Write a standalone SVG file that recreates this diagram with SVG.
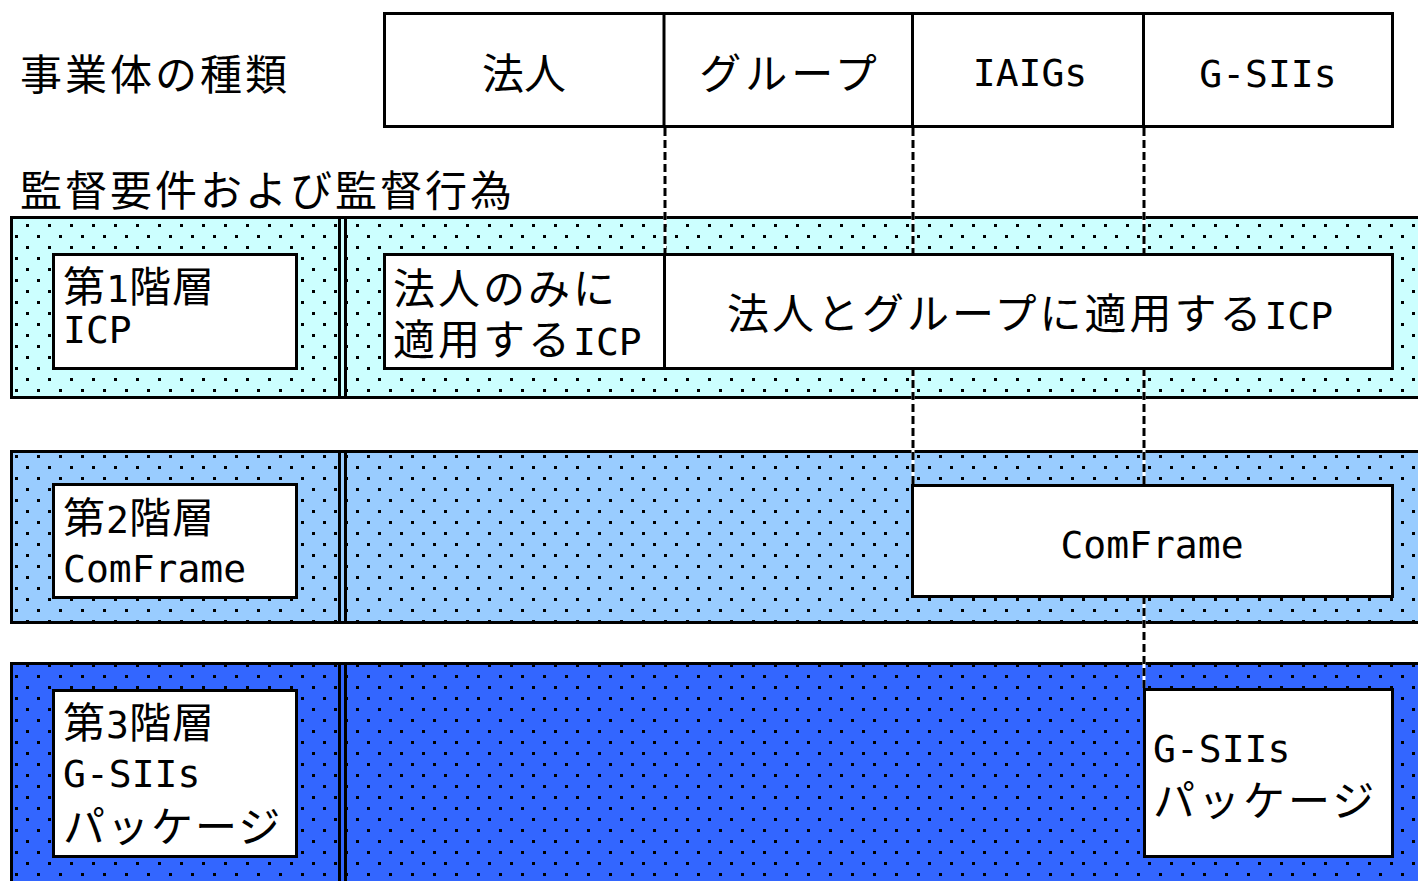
<svg xmlns="http://www.w3.org/2000/svg" width="1418" height="881" viewBox="0 0 1418 881">
<style>
.t{font-family:"DejaVu Sans Mono","Noto Sans CJK JP",sans-serif;font-size:42px;fill:#000;letter-spacing:3px}
.l{letter-spacing:0px;font-size:38px}
.box{fill:#fff;stroke:#000;stroke-width:3}
.bd{fill:none;stroke:#000;stroke-width:3}
.dash{stroke:#000;stroke-width:3;stroke-dasharray:8 4;fill:none}
.wl{stroke:#fff;stroke-width:3;fill:none}
</style>
<defs>
<pattern id="dots" width="22" height="22" patternUnits="userSpaceOnUse">
<rect x="4" y="4" width="3" height="3" fill="#000"/>
<rect x="15" y="15" width="3" height="3" fill="#000"/>
</pattern>
</defs>
<rect width="1418" height="881" fill="#fff"/>

<g id="labels">
<text class="t" x="20" y="90" style="letter-spacing:3px">事業体の種類</text>
<text class="t" x="20" y="206" style="letter-spacing:3px">監督要件および監督行為</text>
</g>

<g id="header">
<rect class="box" x="384.5" y="13.5" width="1008" height="113"/>
<line class="bd" x1="664" y1="13" x2="664" y2="127"/>
<line class="bd" x1="912.5" y1="13" x2="912.5" y2="127"/>
<line class="bd" x1="1143.5" y1="13" x2="1143.5" y2="127"/>
<text class="t" x="524" y="89" text-anchor="middle" style="letter-spacing:0px">法人</text>
<text class="t" x="790" y="89" text-anchor="middle" style="letter-spacing:4px">グループ</text>
<text class="t" x="1030" y="86" text-anchor="middle"><tspan class="l">IAIGs</tspan></text>
<text class="t" x="1268" y="87" text-anchor="middle"><tspan class="l">G-SIIs</tspan></text>
</g>

<g id="band1">
<rect x="11.5" y="217.5" width="1410" height="180" fill="#CCFFFF"/>
<rect x="11.5" y="217.5" width="1410" height="180" fill="url(#dots)"/>
<rect class="bd" x="11.5" y="217.5" width="1410" height="180"/>
<line class="bd" x1="339.5" y1="217" x2="339.5" y2="398"/>
<line class="bd" x1="345.5" y1="217" x2="345.5" y2="398"/>
</g>
<g id="band2">
<rect x="11.5" y="451.5" width="1410" height="171" fill="#99CCFF"/>
<rect x="11.5" y="451.5" width="1410" height="171" fill="url(#dots)"/>
<rect class="bd" x="11.5" y="451.5" width="1410" height="171"/>
<line class="bd" x1="339.5" y1="451" x2="339.5" y2="623"/>
<line class="bd" x1="345.5" y1="451" x2="345.5" y2="623"/>
</g>
<g id="band3">
<rect x="11.5" y="663.5" width="1410" height="230" fill="#3366FF"/>
<rect x="11.5" y="663.5" width="1410" height="230" fill="url(#dots)"/>
<rect class="bd" x="11.5" y="663.5" width="1410" height="230"/>
<line class="bd" x1="339.5" y1="663" x2="339.5" y2="881"/>
<line class="bd" x1="345.5" y1="663" x2="345.5" y2="881"/>
</g>

<g id="connectors">
<line class="wl" x1="665" y1="128" x2="665" y2="253"/>
<line class="dash" x1="665" y1="128" x2="665" y2="253"/>
<line class="wl" x1="913" y1="128" x2="913" y2="484"/>
<line class="dash" x1="913" y1="128" x2="913" y2="484"/>
<line class="wl" x1="1144" y1="128" x2="1144" y2="688"/>
<line class="dash" x1="1144" y1="128" x2="1144" y2="688"/>
</g>

<g id="tier1">
<rect class="box" x="53.5" y="254.5" width="243" height="114"/>
<text class="t" x="63" y="302" style="letter-spacing:1px">第<tspan class="l">1</tspan>階層</text>
<text class="t" x="63" y="343"><tspan class="l">ICP</tspan></text>
</g>
<g id="icp-legal">
<rect class="box" x="384.5" y="254.5" width="280" height="114"/>
<text class="t" x="393" y="304" style="letter-spacing:3px">法人のみに</text>
<text class="t" x="393" y="355" style="letter-spacing:3px">適用する<tspan class="l">ICP</tspan></text>
</g>
<g id="icp-group">
<rect class="box" x="664.5" y="254.5" width="728" height="114"/>
<text class="t" x="727" y="329" style="letter-spacing:3px">法人とグループに適用する<tspan class="l">ICP</tspan></text>
</g>

<g id="tier2">
<rect class="box" x="53.5" y="484.5" width="243" height="113"/>
<text class="t" x="63" y="533" style="letter-spacing:1px">第<tspan class="l">2</tspan>階層</text>
<text class="t" x="63" y="582"><tspan class="l">ComFrame</tspan></text>
</g>
<g id="comframe">
<rect class="box" x="912.5" y="485.5" width="480" height="111"/>
<text class="t" x="1152" y="558" text-anchor="middle"><tspan class="l">ComFrame</tspan></text>
</g>

<g id="tier3">
<rect class="box" x="53.5" y="690.5" width="243" height="166"/>
<text class="t" x="63" y="738" style="letter-spacing:1px">第<tspan class="l">3</tspan>階層</text>
<text class="t" x="63" y="787"><tspan class="l">G-SIIs</tspan></text>
<text class="t" x="63" y="842" style="letter-spacing:2px">パッケージ</text>
</g>
<g id="gsiis">
<rect class="box" x="1144.5" y="689.5" width="248" height="167"/>
<text class="t" x="1153" y="762"><tspan class="l">G-SIIs</tspan></text>
<text class="t" x="1153" y="816" style="letter-spacing:3px">パッケージ</text>
</g>
</svg>
